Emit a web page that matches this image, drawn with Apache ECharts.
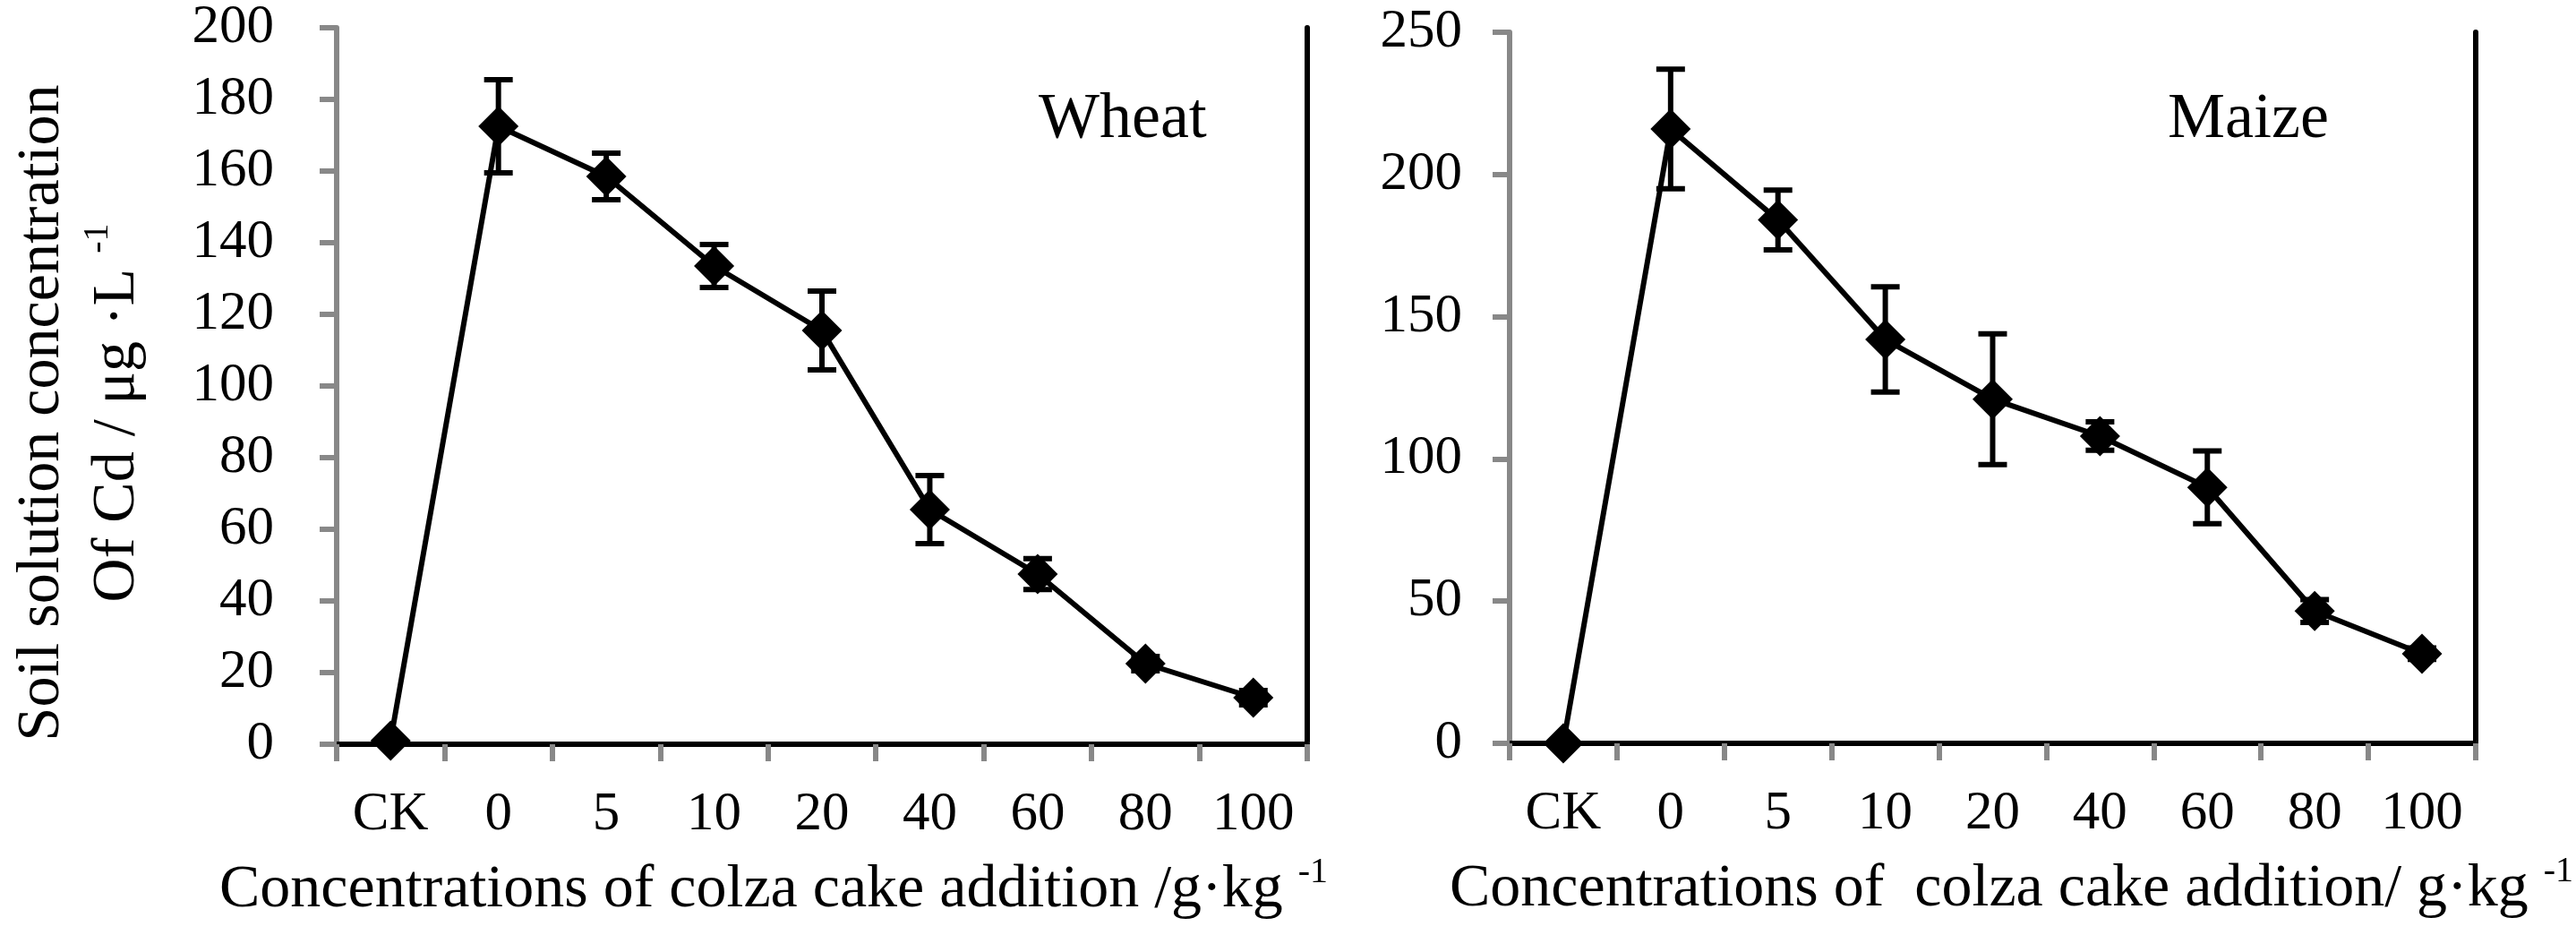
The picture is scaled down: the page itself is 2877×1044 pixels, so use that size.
<!DOCTYPE html>
<html>
<head>
<meta charset="utf-8">
<title>Soil solution Cd</title>
<script src="https://cdn.jsdelivr.net/npm/echarts@6/dist/echarts.min.js"></script>
<style>
  html, body { margin: 0; padding: 0; background: #fff; }
  #main { width: 2877px; height: 1044px; }
</style>
</head>
<body>
<div id="main"></div>
<script>
// categories (colza cake addition, g/kg)
var categories = ['CK', '0', '5', '10', '20', '40', '60', '80', '100'];

// Wheat: mean and error (±)
var wheatMean = [1, 172.5, 158.5, 133.5, 115.5, 65.5, 47.5, 22.5, 13];
var wheatErr  = [0, 13, 6.5, 6, 11, 9.5, 4.3, 2, 2];

// Maize: mean and error (±)
var maizeMean = [0, 216, 184, 142, 121, 108, 90, 46.5, 31.5];
var maizeErr  = [0, 21, 10.5, 18.5, 23, 5, 12.8, 4, 2];

// y tick ranges
var wheatTicks = { min: 0, max: 200, interval: 20 };
var maizeTicks = { min: 0, max: 250, interval: 50 };

var FONT = 'Liberation Serif';
var GRAY = '#888888';
var LW = 6;

var chart = echarts.init(document.getElementById('main'));

// [index, low, high] for error bars
function errData(mean, err) {
    var out = [];
    for (var i = 0; i < mean.length; i++) {
        if (err[i] > 0) out.push([i, mean[i] - err[i], mean[i] + err[i]]);
    }
    return out;
}

function renderErr(params, api) {
    var lo = api.coord([api.value(0), api.value(1)]);
    var hi = api.coord([api.value(0), api.value(2)]);
    var cap = 16;
    var st = { stroke: '#000', lineWidth: LW };
    return {
        type: 'group',
        children: [
            { type: 'line', shape: { x1: lo[0], y1: lo[1], x2: hi[0], y2: hi[1] }, style: st },
            { type: 'line', shape: { x1: hi[0] - cap, y1: hi[1], x2: hi[0] + cap, y2: hi[1] }, style: st },
            { type: 'line', shape: { x1: lo[0] - cap, y1: lo[1], x2: lo[0] + cap, y2: lo[1] }, style: st }
        ]
    };
}

var supRich = {
    sup: { fontFamily: FONT, fontSize: 40, lineHeight: 60, verticalAlign: 'top', color: '#000' }
};

function xAxisMain(gridIndex, name, pad) {
    return {
        gridIndex: gridIndex,
        type: 'category',
        data: categories,
        position: 'bottom',
        boundaryGap: true,
        axisLine: { show: true, lineStyle: { color: GRAY, width: LW } },
        axisTick: { show: true, length: 19, inside: false, lineStyle: { color: GRAY, width: LW } },
        axisLabel: { interval: 0, margin: 48, fontFamily: FONT, fontSize: 61, color: '#000' },
        splitLine: { show: false },
        name: name,
        nameLocation: 'middle',
        nameGap: 123,
        nameTextStyle: {
            fontFamily: FONT, fontSize: 68, lineHeight: 80, color: '#000',
            padding: pad, rich: supRich
        }
    };
}

function xAxisTop(gridIndex) {
    return {
        gridIndex: gridIndex,
        type: 'category',
        data: categories,
        position: 'top',
        axisLine: { show: true, lineStyle: { color: '#000', width: LW } },
        axisTick: { show: false },
        axisLabel: { show: false },
        splitLine: { show: false }
    };
}

function yAxisMain(gridIndex, ticks, margin) {
    return {
        gridIndex: gridIndex,
        type: 'value',
        position: 'left',
        min: ticks.min,
        max: ticks.max,
        interval: ticks.interval,
        axisLine: { show: true, lineStyle: { color: GRAY, width: LW } },
        axisTick: { show: true, length: 19, inside: false, lineStyle: { color: GRAY, width: LW } },
        axisLabel: { margin: margin, fontFamily: FONT, fontSize: 61, color: '#000' },
        splitLine: { show: false }
    };
}

function yAxisRight(gridIndex, ticks) {
    return {
        gridIndex: gridIndex,
        type: 'value',
        position: 'right',
        min: ticks.min,
        max: ticks.max,
        interval: ticks.interval,
        axisLine: { show: true, lineStyle: { color: '#000', width: LW } },
        axisTick: { show: false },
        axisLabel: { show: false },
        splitLine: { show: false }
    };
}

var yLeft = yAxisMain(0, wheatTicks, 70);
yLeft.name = 'Soil solution concentration\nOf Cd / μg ·L {sup|-1}';
yLeft.nameLocation = 'middle';
yLeft.nameRotate = 90;
yLeft.nameGap = 203;
yLeft.nameTextStyle = {
    fontFamily: FONT, fontSize: 68, lineHeight: 84, color: '#000',
    padding: [0, 60, 0, 0], rich: supRich
};

var lineStyleBlack = { color: '#000', width: LW };

chart.setOption({
    backgroundColor: '#fff',
    animation: false,
    grid: [
        { left: 376, top: 31, width: 1084, height: 800 },   // Wheat
        { left: 1686, top: 36, width: 1084, height: 794 }   // Maize
    ],
    xAxis: [
        xAxisMain(0, 'Concentrations of colza cake addition /g·kg {sup|-1}', [0, 108, 0, 0]),
        xAxisMain(1, 'Concentrations of  colza cake addition/ g·kg {sup|-1}', [0, 0, 0, 42]),
        xAxisTop(0),
        xAxisTop(1)
    ],
    yAxis: [
        yLeft,
        yAxisMain(1, maizeTicks, 53),
        yAxisRight(0, wheatTicks),
        yAxisRight(1, maizeTicks)
    ],
    graphic: [
        { type: 'text', left: 1160, top: 98, style: { text: 'Wheat', font: '72px "Liberation Serif"', fill: '#000' } },
        { type: 'text', left: 2421, top: 98, style: { text: 'Maize', font: '72px "Liberation Serif"', fill: '#000' } }
    ],
    series: [
        {
            name: 'Wheat',
            type: 'line',
            xAxisIndex: 0, yAxisIndex: 0,
            data: wheatMean,
            symbol: 'diamond',
            symbolSize: 45,
            itemStyle: { color: '#000' },
            lineStyle: lineStyleBlack,
            z: 3
        },
        {
            name: 'Wheat error',
            type: 'custom',
            xAxisIndex: 0, yAxisIndex: 0,
            data: errData(wheatMean, wheatErr),
            encode: { x: 0, y: [1, 2] },
            renderItem: renderErr,
            z: 2
        },
        {
            name: 'Maize',
            type: 'line',
            xAxisIndex: 1, yAxisIndex: 1,
            data: maizeMean,
            symbol: 'diamond',
            symbolSize: 45,
            itemStyle: { color: '#000' },
            lineStyle: lineStyleBlack,
            z: 3
        },
        {
            name: 'Maize error',
            type: 'custom',
            xAxisIndex: 1, yAxisIndex: 1,
            data: errData(maizeMean, maizeErr),
            encode: { x: 0, y: [1, 2] },
            renderItem: renderErr,
            z: 2
        }
    ]
});
</script>
</body>
</html>
